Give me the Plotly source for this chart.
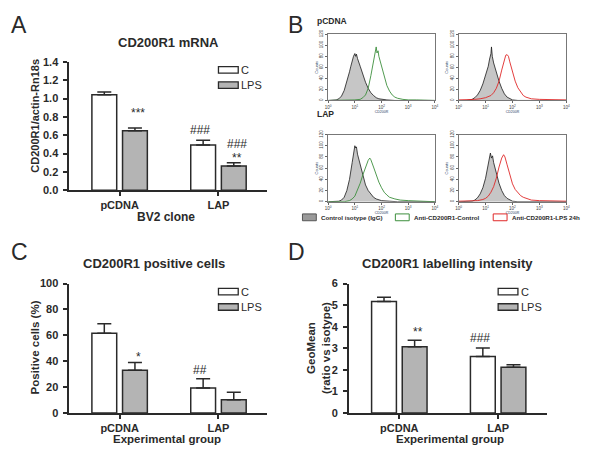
import plotly.graph_objects as go

W, H = 600, 459
FONT = "Liberation Sans, Arial, sans-serif"
LINE = "#2a2a2a"
GREY_BAR = "#b4b4b4"

# ---- data -------------------------------------------------------------
groups = ["pCDNA", "LAP"]

mrna_c = [1.04, 0.495]
mrna_c_err = [0.03, 0.05]
mrna_lps = [0.65, 0.265]
mrna_lps_err = [0.03, 0.035]

pos_c = [61.7, 19.3]
pos_c_err = [7.3, 7.2]
pos_lps = [33, 10.3]
pos_lps_err = [6, 5.7]

geo_c = [5.17, 2.62]
geo_c_err = [0.2, 0.4]
geo_lps = [3.07, 2.12]
geo_lps_err = [0.3, 0.12]

# significance marks: (group, series, text, y value)
mrna_marks = [("pCDNA", "LPS", "***", 0.84), ("LAP", "C", "###", 0.66),
              ("LAP", "LPS", "###", 0.505), ("LAP", "LPS", "**", 0.355)]
pos_marks = [("pCDNA", "LPS", "*", 43.5), ("LAP", "C", "##", 33)]
geo_marks = [("pCDNA", "LPS", "**", 3.75), ("LAP", "C", "###", 3.5)]

# flow cytometry histograms (log10 fluorescence, counts)
tl_iso_log = [0.0, 0.2, 0.3, 0.4, 0.5, 0.6, 0.7, 0.8, 0.85, 0.9, 0.95, 1.0, 1.03, 1.06, 1.1,
              1.2, 1.3, 1.4, 1.5, 1.6, 1.7, 1.8, 1.9, 2.0, 2.2, 2.5, 4.0]
tl_iso_cnt = [0, 0, 1, 3, 8, 18, 33, 52, 62, 72, 80, 85, 80, 84, 76,
              62, 47, 33, 22, 14, 9, 5, 3, 2, 1, 0, 0]
tl_anti_log = [0.0, 0.5, 1.0, 1.2, 1.3, 1.4, 1.5, 1.6, 1.7, 1.75, 1.8, 1.83, 1.87, 1.9, 2.0,
               2.1, 2.2, 2.3, 2.4, 2.5, 2.6, 2.8, 3.0, 3.3, 4.0]
tl_anti_cnt = [0, 0, 1, 2, 5, 10, 22, 45, 72, 85, 97, 86, 90, 80, 62,
               42, 27, 17, 10, 6, 4, 2, 1, 1, 0]

tr_iso_log = [0.0, 0.3, 0.5, 0.6, 0.7, 0.8, 0.9, 1.0, 1.1, 1.15, 1.2, 1.22, 1.25, 1.3, 1.4,
              1.5, 1.6, 1.7, 1.8, 1.9, 2.0, 2.2, 4.0]
tr_iso_cnt = [0, 0, 2, 5, 10, 18, 30, 45, 62, 75, 85, 97, 80, 68, 50,
              35, 22, 12, 6, 3, 1, 0, 0]
tr_anti_log = [0.0, 0.3, 0.6, 0.8, 1.0, 1.2, 1.3, 1.4, 1.5, 1.6, 1.7, 1.75, 1.8, 1.85, 1.9,
               2.0, 2.1, 2.2, 2.3, 2.4, 2.5, 2.7, 3.0, 3.5, 4.0]
tr_anti_cnt = [1, 1, 2, 3, 5, 9, 14, 22, 35, 55, 72, 82, 83, 80, 70,
               52, 35, 23, 15, 9, 6, 3, 2, 1, 1]

bl_iso_log = [0.0, 0.2, 0.4, 0.5, 0.6, 0.7, 0.8, 0.9, 0.95, 1.0, 1.03, 1.06, 1.1, 1.2, 1.3,
              1.4, 1.5, 1.6, 1.7, 1.8, 1.9, 2.0, 2.3, 2.6, 4.0]
bl_iso_cnt = [0, 0, 1, 3, 8, 20, 40, 70, 90, 100, 96, 98, 85, 65, 45,
              30, 20, 13, 8, 5, 3, 2, 1, 0, 0]
bl_anti_log = [0.0, 0.6, 0.8, 0.9, 1.0, 1.1, 1.2, 1.3, 1.4, 1.5, 1.56, 1.6, 1.7, 1.8, 1.9,
               2.0, 2.1, 2.2, 2.3, 2.5, 2.7, 3.0, 3.5, 4.0]
bl_anti_cnt = [0, 0, 2, 5, 10, 20, 33, 48, 62, 74, 78, 75, 62, 47, 35,
               25, 17, 12, 8, 5, 3, 2, 1, 0]

br_iso_log = [0.0, 0.3, 0.5, 0.6, 0.7, 0.8, 0.9, 1.0, 1.1, 1.15, 1.18, 1.22, 1.26, 1.3, 1.4,
              1.5, 1.6, 1.7, 1.8, 1.9, 2.0, 2.2, 4.0]
br_iso_cnt = [0, 0, 1, 3, 7, 14, 25, 42, 65, 80, 87, 78, 82, 70, 50,
              33, 20, 11, 6, 3, 1, 0, 0]
br_anti_log = [0.0, 0.4, 0.7, 0.9, 1.0, 1.1, 1.2, 1.3, 1.4, 1.5, 1.6, 1.67, 1.72, 1.8, 1.9,
               2.0, 2.1, 2.2, 2.3, 2.4, 2.5, 2.7, 3.0, 3.5, 4.0]
br_anti_cnt = [1, 1, 2, 4, 6, 10, 17, 27, 42, 62, 78, 84, 80, 66, 48,
               32, 22, 16, 11, 8, 6, 3, 2, 1, 1]

decade_ticks = [1, 10, 100, 1000, 10000]
decade_labels = ["10<sup>0</sup>", "10<sup>1</sup>", "10<sup>2</sup>", "10<sup>3</sup>", "10<sup>4</sup>"]


def px(xp):
    return xp / W


def py(yp):
    return 1 - yp / H


fig = go.Figure()
annotations = []
shapes = []


def text(x, y, s, size, bold=False, xanchor="center", yanchor="middle", angle=0, color=LINE):
    annotations.append(dict(
        x=px(x), y=py(y), xref="paper", yref="paper", text=s, showarrow=False,
        xanchor=xanchor, yanchor=yanchor, textangle=angle,
        font=dict(family=FONT, size=size, color=color, weight="bold" if bold else "normal"),
    ))


def bar_panel(n, c_vals, c_err, lps_vals, lps_err, yrange, dtick, fmt,
              xdom, ydom, marks):
    xa = "x" if n == 1 else f"x{n}"
    ya = "y" if n == 1 else f"y{n}"
    err = dict(type="data", symmetric=False, arrayminus=[0, 0], color=LINE, thickness=1.5, width=7)
    fig.add_trace(go.Bar(x=groups, y=c_vals, xaxis=xa, yaxis=ya, showlegend=False,
                         marker=dict(color="white", line=dict(color=LINE, width=1.5)),
                         error_y=dict(err, array=c_err)))
    fig.add_trace(go.Bar(x=groups, y=lps_vals, xaxis=xa, yaxis=ya, showlegend=False,
                         marker=dict(color=GREY_BAR, line=dict(color=LINE, width=1.5)),
                         error_y=dict(err, array=lps_err)))
    tickfont = dict(family=FONT, size=11, color=LINE, weight="bold")
    fig.layout[f"xaxis{'' if n == 1 else n}"] = dict(
        domain=xdom, anchor=ya, type="category", range=[-0.51, 1.49],
        showline=True, linecolor=LINE, linewidth=1.5, ticks="outside", ticklen=4,
        tickwidth=1.5, tickcolor=LINE, tickfont=tickfont, showgrid=False, zeroline=False)
    fig.layout[f"yaxis{'' if n == 1 else n}"] = dict(
        domain=ydom, anchor=xa, range=yrange, dtick=dtick, tickformat=fmt,
        showline=True, linecolor=LINE, linewidth=1.5, ticks="outside", ticklen=4,
        tickwidth=1.5, tickcolor=LINE, tickfont=tickfont, showgrid=False, zeroline=False,
        ticklabelstandoff=3)
    # legend swatches
    for i, (lab, col) in enumerate([("C", "white"), ("LPS", GREY_BAR)]):
        y1 = 0.962 - i * 0.118
        shapes.append(dict(type="rect", xref=f"{xa} domain", yref=f"{ya} domain",
                           x0=0.755, x1=0.855, y0=y1 - 0.05, y1=y1, fillcolor=col,
                           line=dict(color=LINE, width=1.3)))
        annotations.append(dict(x=0.86, y=y1 - 0.025, xref=f"{xa} domain", yref=f"{ya} domain",
                                text=lab, showarrow=False, xanchor="left", yanchor="middle",
                                font=dict(family=FONT, size=11, color=LINE)))
    for grp, ser, s, yv in marks:
        annotations.append(dict(x=grp, y=yv, xref=xa, yref=ya, text=s, showarrow=False,
                                xshift=-18.5 if ser == "C" else 18.5, yanchor="middle",
                                font=dict(family=FONT, size=12, color=LINE)))


def hist_panel(n, iso_log, iso_cnt, anti_log, anti_cnt, color, xdom, ydom):
    xa, ya = f"x{n}", f"y{n}"
    fig.add_trace(go.Scatter(x=[10 ** v for v in iso_log], y=iso_cnt, xaxis=xa, yaxis=ya,
                             mode="lines", fill="tozeroy", fillcolor="#c6c6c6",
                             line=dict(color="#1a1a1a", width=0.8), showlegend=False))
    fig.add_trace(go.Scatter(x=[10 ** v for v in anti_log], y=anti_cnt, xaxis=xa, yaxis=ya,
                             mode="lines", line=dict(color=color, width=0.9), showlegend=False))
    small = dict(family=FONT, size=4.5, color="#444")
    fig.layout[f"xaxis{n}"] = dict(
        domain=xdom, anchor=ya, type="log", range=[0, 4], tickvals=decade_ticks,
        ticktext=decade_labels, tickfont=small, ticks="outside", ticklen=2, tickcolor="#666",
        showline=True, mirror=True, linecolor="#777", linewidth=0.8, showgrid=False,
        zeroline=False, title=dict(text="CD200R", font=dict(family=FONT, size=3.5), standoff=0))
    fig.layout[f"yaxis{n}"] = dict(
        domain=ydom, anchor=xa, range=[0, 120], dtick=20, tickangle=-90, tickfont=small,
        ticks="outside", ticklen=2, tickcolor="#666", showline=True, mirror=True,
        linecolor="#777", linewidth=0.8, showgrid=False, zeroline=False,
        title=dict(text="Counts", font=dict(family=FONT, size=4), standoff=1))


# panel A, C, D
bar_panel(1, mrna_c, mrna_c_err, mrna_lps, mrna_lps_err, [0, 1.4], 0.2, ".1f",
          [px(67), px(267)], [py(189.3), py(57.3)], mrna_marks)
bar_panel(2, pos_c, pos_c_err, pos_lps, pos_lps_err, [0, 100], 20, "d",
          [px(67), px(267)], [py(418), py(285)], pos_marks)
bar_panel(3, geo_c, geo_c_err, geo_lps, geo_lps_err, [0, 6], 1, "d",
          [px(350), px(550)], [py(418), py(285)], geo_marks)

# panel B
hist_panel(4, tl_iso_log, tl_iso_cnt, tl_anti_log, tl_anti_cnt, "#3d8f3d",
           [px(329), px(437)], [py(97), py(29)])
hist_panel(5, tr_iso_log, tr_iso_cnt, tr_anti_log, tr_anti_cnt, "#e02828",
           [px(461), px(570)], [py(97), py(29)])
hist_panel(6, bl_iso_log, bl_iso_cnt, bl_anti_log, bl_anti_cnt, "#3d8f3d",
           [px(329), px(437)], [py(201), py(132)])
hist_panel(7, br_iso_log, br_iso_cnt, br_anti_log, br_anti_cnt, "#e02828",
           [px(461), px(570)], [py(201), py(132)])

# panel letters
text(6, 20, "A", 23, xanchor="left")
text(286, 19, "B", 23, xanchor="left")
text(6, 253, "C", 23, xanchor="left")
text(286, 253, "D", 23, xanchor="left")

# titles
text(167, 37, "CD200R1 mRNA", 13, bold=True)
text(153, 264, "CD200R1 positive cells", 13, bold=True)
text(450, 264, "CD200R1 labelling intensity", 13, bold=True)

# axis titles
text(32, 113, "CD200R1/actin-Rn18s", 11, bold=True, angle=-90)
text(165, 217, "BV2 clone", 12, bold=True)
text(32, 351, "Positive cells (%)", 11.5, bold=True, angle=-90)
text(166, 445, "Experimental group", 11.5, bold=True)
text(320, 351, "GeoMean<br>(ratio vs isotype)", 11.5, bold=True, angle=-90)
text(452, 445, "Experimental group", 11.5, bold=True)

# panel B labels and legend
text(316, 15, "pCDNA", 8.5, bold=True, xanchor="left")
text(316, 111, "LAP", 8.5, bold=True, xanchor="left")
legend_items = [(303, "#9a9a9a", "#555", "Control isotype (IgG)"),
                (397, "white", "#3d8f3d", "Anti-CD200R1-Control"),
                (496, "white", "#e02828", "Anti-CD200R1-LPS 24h")]
for x0, fillc, linec, lab in legend_items:
    shapes.append(dict(type="rect", xref="paper", yref="paper", x0=px(x0), x1=px(x0 + 14),
                       y0=py(220.5), y1=py(213.5), fillcolor=fillc, line=dict(color=linec, width=1)))
    text(x0 + 17, 217, lab, 6.2, bold=True, xanchor="left")

fig.update_layout(
    width=W, height=H, margin=dict(l=0, r=0, t=0, b=0),
    paper_bgcolor="white", plot_bgcolor="white",
    barmode="group", bargap=0.38, bargroupgap=0.19,
    annotations=annotations, shapes=shapes,
)

fig.write_html("out.html", config={"displayModeBar": False},
               post_script="document.body.style.margin='0';")
